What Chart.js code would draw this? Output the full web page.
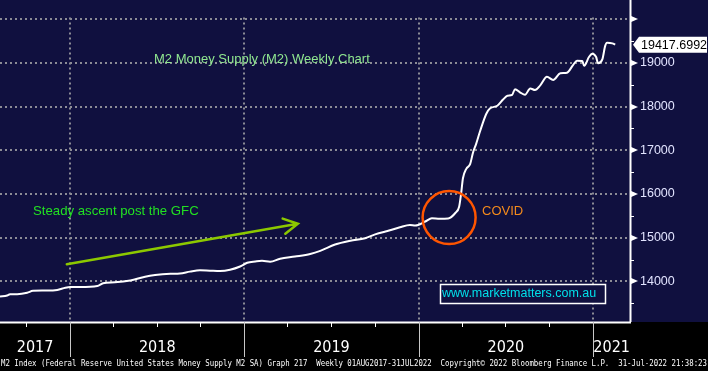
<!DOCTYPE html>
<html>
<head>
<meta charset="utf-8">
<script src="https://cdn.jsdelivr.net/npm/chart.js@4.4.1/dist/chart.umd.min.js"></script>
<style>
  html, body { margin: 0; padding: 0; background: #000; overflow: hidden; }
  canvas { display: block; }
</style>
</head>
<body>
<canvas id="m2Chart" width="708" height="371"></canvas>
<script>
// M2 weekly (billions USD)
const dates = [
  '2017-08-07', '2017-08-22', '2017-08-28', '2017-09-12', '2017-10-03', '2017-10-15', '2017-11-10', '2017-12-05', '2017-12-22',
  '2018-01-01', '2018-01-22', '2018-02-27', '2018-03-11', '2018-04-05', '2018-05-07', '2018-06-07', '2018-06-28', '2018-07-30',
  '2018-08-19', '2018-09-09', '2018-09-30', '2018-10-21', '2018-11-11', '2018-12-02', '2018-12-23',
  '2019-01-07', '2019-01-24', '2019-02-07', '2019-02-24', '2019-03-17', '2019-04-17', '2019-05-19', '2019-06-09', '2019-07-10',
  '2019-08-11', '2019-09-11', '2019-10-02', '2019-11-02', '2019-11-23', '2019-12-14', '2019-12-25',
  '2020-01-15', '2020-01-29', '2020-02-14', '2020-03-03', '2020-03-18', '2020-03-26', '2020-03-30', '2020-04-03', '2020-04-10',
  '2020-04-18', '2020-04-24', '2020-05-01', '2020-05-09', '2020-05-22', '2020-05-30', '2020-06-14', '2020-06-26', '2020-07-05',
  '2020-07-15', '2020-07-21', '2020-08-01', '2020-08-11', '2020-08-22', '2020-09-01', '2020-09-12', '2020-09-26', '2020-10-09',
  '2020-10-24', '2020-11-07', '2020-11-20', '2020-11-28', '2020-12-09', '2020-12-13', '2020-12-23', '2020-12-30',
  '2021-01-07', '2021-01-11', '2021-01-20', '2021-01-26', '2021-01-30', '2021-02-10', '2021-02-16'
];
const m2Values = [
  13654, 13675, 13708, 13708, 13740, 13784, 13790, 13805, 13855,
  13870, 13870, 13892, 13957, 13978, 14022, 14108, 14145, 14173,
  14180, 14223, 14253, 14245, 14238, 14266, 14340,
  14426, 14455, 14470, 14448, 14519, 14569, 14628, 14699, 14844,
  14931, 14989, 15076, 15169, 15240, 15292, 15277,
  15370, 15444, 15435, 15440, 15565, 15710, 15998, 16360, 16576,
  16684, 16944, 17160, 17442, 17838, 17961, 18020, 18162, 18249,
  18271, 18400, 18323, 18271, 18416, 18379, 18487, 18682, 18610,
  18762, 18777, 18957, 19050, 19043, 18935, 19136, 19210,
  19136, 18994, 19080, 19390, 19461, 19448, 19417.6992
];
const lastValue = 19417.6992;

const yearLabels = ['2017', '2018', '2019', '2020', '2021'];
const yearStarts = ['2018-01-01', '2019-01-01', '2020-01-01', '2021-01-01'];
const quarterTicks = ['2017-10-01', '2018-04-01', '2018-07-01', '2018-10-01', '2019-04-01', '2019-07-01', '2019-10-01',
  '2020-04-01', '2020-07-01', '2020-10-01'];
const yMajorTicks = [14000, 15000, 16000, 17000, 18000, 19000, 20000];
const yMinorTicks = [13500, 14500, 15500, 16500, 17500, 18500, 19500];
const xRange = ['2017-08-07', '2021-03-19'];
const yRange = [13070, 20040];

const footerText = 'M2 Index (Federal Reserve United States Money Supply M2 SA) Graph 217  Weekly 01AUG2017-31JUL2022  Copyright\u00A9 2022 Bloomberg Finance L.P.  31-Jul-2022 21:38:23';

const NAVY = '#10103f';
const t = d => Date.parse(d + 'T00:00:00Z');

const bloombergPlugin = {
  id: 'bloomberg',
  beforeDraw(chart) {
    const { ctx, width, height, chartArea: a } = chart;
    ctx.save();
    ctx.fillStyle = '#000';
    ctx.fillRect(0, 0, width, height);
    ctx.fillStyle = NAVY;
    ctx.fillRect(0, 0, width, a.bottom);
    ctx.restore();
  },
  beforeDatasetsDraw(chart) {
    const { ctx, chartArea: a, scales: { x, y } } = chart;
    ctx.save();
    ctx.strokeStyle = '#8c8c96';
    ctx.lineWidth = 2;
    ctx.setLineDash([2, 3]);
    yMajorTicks.forEach(v => {
      const py = Math.round(y.getPixelForValue(v));
      ctx.beginPath();
      ctx.moveTo(a.left, py);
      ctx.lineTo(a.right, py);
      ctx.stroke();
    });
    yearStarts.forEach(d => {
      const px = Math.round(x.getPixelForValue(t(d)));
      ctx.beginPath();
      ctx.moveTo(px, a.top);
      ctx.lineTo(px, a.bottom);
      ctx.stroke();
    });
    ctx.restore();
  },
  afterDatasetsDraw(chart) {
    const { ctx, scales: { x, y } } = chart;
    ctx.save();
    ctx.textBaseline = 'middle';
    ctx.textAlign = 'left';

    // title
    ctx.font = '13px "Liberation Sans", Arial, sans-serif';
    ctx.fillStyle = '#90e890';
    ctx.fillText('M2 Money Supply (M2) Weekly Chart', 154, 59);

    // GFC note + arrow
    ctx.font = '13.2px "Liberation Sans", Arial, sans-serif';
    ctx.fillStyle = '#22e022';
    ctx.fillText('Steady ascent post the GFC', 33, 211);
    const x0 = x.getPixelForValue(t('2017-12-25')), y0 = y.getPixelForValue(14390);
    const x1 = x.getPixelForValue(t('2019-04-23')), y1 = y.getPixelForValue(15320);
    const ang = Math.atan2(y1 - y0, x1 - x0);
    ctx.strokeStyle = '#8cc800';
    ctx.lineWidth = 2.5;
    ctx.lineCap = 'round';
    ctx.beginPath();
    ctx.moveTo(x0, y0);
    ctx.lineTo(x1, y1);
    ctx.moveTo(x1 - 16 * Math.cos(ang - 0.5), y1 - 16 * Math.sin(ang - 0.5));
    ctx.lineTo(x1, y1);
    ctx.lineTo(x1 - 16 * Math.cos(ang + 0.5), y1 - 16 * Math.sin(ang + 0.5));
    ctx.stroke();

    // COVID circle
    const cx = x.getPixelForValue(t('2020-03-05')), cy = y.getPixelForValue(15461);
    ctx.strokeStyle = '#ff5500';
    ctx.lineWidth = 2.5;
    ctx.beginPath();
    ctx.arc(cx, cy, 26.5, 0, Math.PI * 2);
    ctx.stroke();
    ctx.font = '13px "Liberation Sans", Arial, sans-serif';
    ctx.fillStyle = '#f38a1c';
    ctx.fillText('COVID', 482, 211);

    // watermark
    ctx.fillStyle = NAVY;
    ctx.fillRect(440, 284, 165, 19);
    ctx.strokeStyle = '#ffffff';
    ctx.lineWidth = 1.5;
    ctx.strokeRect(440.5, 284.5, 165, 19);
    ctx.font = '12.5px "Liberation Sans", Arial, sans-serif';
    ctx.fillStyle = '#00e0ea';
    ctx.fillText('www.marketmatters.com.au', 442, 294);
    ctx.restore();
  },
  afterDraw(chart) {
    const { ctx, width, chartArea: a, scales: { x, y } } = chart;
    ctx.save();
    ctx.strokeStyle = '#ffffff';
    ctx.fillStyle = '#ffffff';
    ctx.lineWidth = 2;
    // axis lines
    ctx.beginPath();
    ctx.moveTo(0, a.bottom + 0.5);
    ctx.lineTo(a.right + 1, a.bottom + 0.5);
    ctx.moveTo(a.right + 0.5, 0);
    ctx.lineTo(a.right + 0.5, a.bottom);
    ctx.stroke();

    // y tick markers
    yMajorTicks.forEach(v => {
      const py = Math.round(y.getPixelForValue(v));
      ctx.beginPath();
      ctx.moveTo(a.right, py - 3.5);
      ctx.lineTo(a.right + 8, py);
      ctx.lineTo(a.right, py + 3.5);
      ctx.closePath();
      ctx.fill();
    });
    ctx.lineWidth = 1;
    yMinorTicks.forEach(v => {
      const py = Math.round(y.getPixelForValue(v)) + 0.5;
      ctx.beginPath();
      ctx.moveTo(a.right, py);
      ctx.lineTo(a.right + 4, py);
      ctx.stroke();
    });

    // x quarter ticks and year separators
    quarterTicks.forEach(d => {
      const px = Math.round(x.getPixelForValue(t(d))) + 0.5;
      ctx.beginPath();
      ctx.moveTo(px, a.bottom);
      ctx.lineTo(px, a.bottom + 5);
      ctx.stroke();
    });
    ctx.strokeStyle = '#c8c8c8';
    yearStarts.forEach(d => {
      const px = Math.round(x.getPixelForValue(t(d))) + 0.5;
      ctx.beginPath();
      ctx.moveTo(px, a.bottom);
      ctx.lineTo(px, a.bottom + 35);
      ctx.stroke();
    });
    const bounds = [a.left].concat(yearStarts.map(d => x.getPixelForValue(t(d))), [a.right]);
    ctx.font = '16px "Liberation Sans Narrow", "DejaVu Sans Condensed", sans-serif';
    ctx.fillStyle = '#ffffff';
    ctx.textAlign = 'center';
    ctx.textBaseline = 'middle';
    yearLabels.forEach((lbl, i) => {
      ctx.fillText(lbl, (bounds[i] + bounds[i + 1]) / 2, a.bottom + 26);
    });

    // last value box
    const ly = y.getPixelForValue(lastValue);
    ctx.fillStyle = '#ffffff';
    ctx.beginPath();
    ctx.moveTo(a.right + 3, ly);
    ctx.lineTo(a.right + 9, ly - 8);
    ctx.lineTo(width - 1, ly - 8);
    ctx.lineTo(width - 1, ly + 8);
    ctx.lineTo(a.right + 9, ly + 8);
    ctx.closePath();
    ctx.fill();
    ctx.fillStyle = '#000000';
    ctx.textAlign = 'left';
    ctx.font = '12.5px "Liberation Sans", Arial, sans-serif';
    ctx.fillText(lastValue.toFixed(4), a.right + 11, ly + 0.5);

    // footer
    ctx.fillStyle = '#ffffff';
    ctx.font = '9px "DejaVu Sans Mono", monospace';
    ctx.textBaseline = 'alphabetic';
    ctx.fillText(footerText, 1, 366, width - 2);
    ctx.restore();
  }
};

const ctx = document.getElementById('m2Chart').getContext('2d');
const m2Chart = new Chart(ctx, {
  type: 'line',
  data: {
    datasets: [{
      label: 'M2',
      data: dates.map((d, i) => ({ x: t(d), y: m2Values[i] })),
      borderColor: '#ffffff',
      borderWidth: 2,
      pointRadius: 0,
      cubicInterpolationMode: 'monotone',
      fill: false
    }]
  },
  options: {
    responsive: false,
    animation: false,
    devicePixelRatio: 1,
    layout: { padding: { left: 0, top: 0, right: 0, bottom: 49 } },
    plugins: { legend: { display: false }, tooltip: { enabled: false } },
    scales: {
      x: {
        type: 'linear',
        display: false,
        min: t(xRange[0]),
        max: t(xRange[1])
      },
      y: {
        position: 'right',
        min: yRange[0],
        max: yRange[1],
        afterFit(scale) { scale.width = 78; },
        afterBuildTicks(scale) { scale.ticks = yMajorTicks.map(v => ({ value: v })); },
        grid: { display: false, drawTicks: false },
        border: { display: false },
        ticks: {
          autoSkip: false,
          padding: 10,
          color: '#e2e4ff',
          font: { family: '"Liberation Sans", Arial, sans-serif', size: 12.5 },
          callback: v => (v > 19500 ? '' : String(v))
        }
      }
    }
  },
  plugins: [bloombergPlugin]
});
</script>
</body>
</html>
